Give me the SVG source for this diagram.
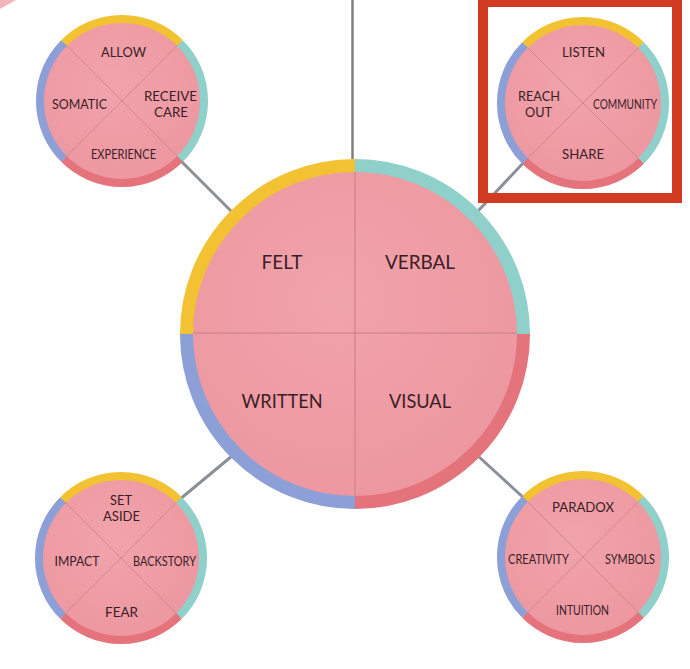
<svg xmlns="http://www.w3.org/2000/svg" xmlns:xlink="http://www.w3.org/1999/xlink" width="690" height="669" viewBox="0 0 690 669">
<style>
.lbl{font-family:Lato,"Open Sans","DejaVu Sans",sans-serif;fill:#3a2026;text-anchor:middle}
.big{font-size:19px}
.sm{font-size:13px}
.conn{stroke:#8b8f97;stroke-width:3;fill:none;stroke-linecap:butt}
.ring{fill:none}
.y{stroke:#f2c232}
.t{stroke:#8fd0ca}
.r{stroke:#e5737b}
.b{stroke:#8c9fd7}
</style>
<defs>
<radialGradient id="pk" cx="0.45" cy="0.4" r="0.7">
<stop offset="0" stop-color="#f1a3ab"/>
<stop offset="1" stop-color="#ec959f"/>
</radialGradient>
<g id="mini">
<circle r="83" fill="url(#pk)"/>
<line x1="-58" y1="-58" x2="58" y2="58" stroke="#cf8790" stroke-width="1"/>
<line x1="58" y1="-58" x2="-58" y2="58" stroke="#cf8790" stroke-width="1"/>
<g class="ring" stroke-width="8">
<path class="y" d="M-58,-58 A82,82 0 0 1 58,-58"/>
<path class="t" d="M58,-58 A82,82 0 0 1 58,58"/>
<path class="r" d="M58,58 A82,82 0 0 1 -58,58"/>
<path class="b" d="M-58,58 A82,82 0 0 1 -58,-58"/>
</g>
</g>
</defs>
<rect width="690" height="669" fill="#ffffff"/>
<path d="M0,0 L16,0 L0,9 Z" fill="#f0a3aa" opacity="0.8"/>
<g id="connectors">
<line x1="352.5" y1="0" x2="352.5" y2="159" stroke="#7f7f7f" stroke-width="2.5"/>
<line class="conn" x1="180" y1="160" x2="232" y2="212"/>
<line class="conn" x1="525" y1="161" x2="478" y2="211"/>
<line class="conn" x1="179" y1="500" x2="232" y2="456"/>
<line class="conn" x1="478" y1="456" x2="525" y2="499"/>
</g>
<g id="main">
<circle cx="355" cy="334" r="170" fill="url(#pk)"/>
<line x1="355" y1="166" x2="355" y2="502" stroke="#d48890" stroke-width="1.5"/>
<line x1="187" y1="333" x2="523" y2="333" stroke="#d48890" stroke-width="1.5"/>
<g class="ring" stroke-width="13">
<path class="y" d="M186.5,334 A168.5,168.5 0 0 1 355,165.5"/>
<path class="t" d="M355,165.5 A168.5,168.5 0 0 1 523.5,334"/>
<path class="r" d="M523.5,334 A168.5,168.5 0 0 1 355,502.5"/>
<path class="b" d="M355,502.5 A168.5,168.5 0 0 1 186.5,334"/>
</g>
<text class="lbl big" x="282" y="269" textLength="41" lengthAdjust="spacingAndGlyphs">FELT</text>
<text class="lbl big" x="420" y="269" textLength="70" lengthAdjust="spacingAndGlyphs">VERBAL</text>
<text class="lbl big" x="282" y="408" textLength="81" lengthAdjust="spacingAndGlyphs">WRITTEN</text>
<text class="lbl big" x="420" y="408" textLength="62" lengthAdjust="spacingAndGlyphs">VISUAL</text>
</g>
<g id="node-tl">
<use xlink:href="#mini" x="122" y="101"/>
<text class="lbl sm" x="123.5" y="57" textLength="45" lengthAdjust="spacingAndGlyphs">ALLOW</text>
<text class="lbl sm" x="79.5" y="109" textLength="55" lengthAdjust="spacingAndGlyphs">SOMATIC</text>
<text class="lbl sm" x="170.5" y="101" textLength="53" lengthAdjust="spacingAndGlyphs">RECEIVE</text>
<text class="lbl sm" x="171" y="117" textLength="34" lengthAdjust="spacingAndGlyphs">CARE</text>
<text class="lbl sm" x="123.5" y="159" textLength="65" lengthAdjust="spacingAndGlyphs">EXPERIENCE</text>
</g>
<g id="node-tr">
<use xlink:href="#mini" x="583" y="103"/>
<text class="lbl sm" x="583.5" y="57" textLength="43" lengthAdjust="spacingAndGlyphs">LISTEN</text>
<text class="lbl sm" x="539" y="101" textLength="42" lengthAdjust="spacingAndGlyphs">REACH</text>
<text class="lbl sm" x="538.5" y="117" textLength="27" lengthAdjust="spacingAndGlyphs">OUT</text>
<text class="lbl sm" x="625" y="109" textLength="64" lengthAdjust="spacingAndGlyphs">COMMUNITY</text>
<text class="lbl sm" x="583" y="159" textLength="42" lengthAdjust="spacingAndGlyphs">SHARE</text>
</g>
<g id="node-bl">
<use xlink:href="#mini" x="121" y="558"/>
<text class="lbl sm" x="121" y="505" textLength="22" lengthAdjust="spacingAndGlyphs">SET</text>
<text class="lbl sm" x="121.5" y="521" textLength="37" lengthAdjust="spacingAndGlyphs">ASIDE</text>
<text class="lbl sm" x="77" y="566" textLength="45" lengthAdjust="spacingAndGlyphs">IMPACT</text>
<text class="lbl sm" x="164.5" y="566" textLength="63" lengthAdjust="spacingAndGlyphs">BACKSTORY</text>
<text class="lbl sm" x="121.5" y="617" textLength="33" lengthAdjust="spacingAndGlyphs">FEAR</text>
</g>
<g id="node-br">
<use xlink:href="#mini" x="583" y="557"/>
<text class="lbl sm" x="583" y="512" textLength="62" lengthAdjust="spacingAndGlyphs">PARADOX</text>
<text class="lbl sm" x="538.5" y="564" textLength="61" lengthAdjust="spacingAndGlyphs">CREATIVITY</text>
<text class="lbl sm" x="630" y="564" textLength="50" lengthAdjust="spacingAndGlyphs">SYMBOLS</text>
<text class="lbl sm" x="582.5" y="615" textLength="53" lengthAdjust="spacingAndGlyphs">INTUITION</text>
</g>
<rect id="highlight" x="483" y="2" width="194" height="196" fill="none" stroke="#d13b22" stroke-width="10"/>
</svg>
